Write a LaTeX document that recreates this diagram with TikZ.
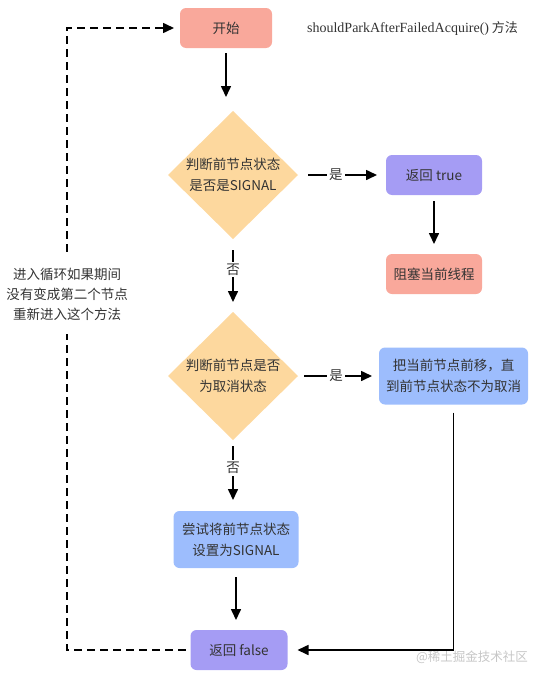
\documentclass[tikz,border=0pt]{standalone}
\usepackage{fontspec}
\setmainfont{Noto Sans CJK SC}
\newfontfamily\titlefont{Liberation Serif}
\usetikzlibrary{
  shapes.geometric, % Shape "diamond"
  arrows.meta,
  positioning,      % Function "of" (e.g. [below=of x])
}
\definecolor{startred}{HTML}{F9A89B}
\definecolor{decide}{HTML}{FDD89E}
\definecolor{retpurple}{HTML}{A59CF4}
\definecolor{stepblue}{HTML}{9DBDFD}
\definecolor{ink}{HTML}{333333}
\def\myboxw{96pt}
\def\myboxh{40pt}
\tikzset{
  font=\fontsize{13.5}{21}\selectfont,
  >={Triangle[length=11pt,width=10pt]},
  my box/.style={
    rectangle,
    rounded corners=6pt,
    minimum width=\myboxw,
    minimum height=\myboxh,
    inner sep=2pt,
    outer sep=0pt,
    align=center,
    text=ink
  },
  red box/.style={my box,fill=startred},
  ret box/.style={my box,fill=retpurple},
  blue box/.style={my box,fill=stepblue,minimum height=57pt},
  decision/.style={
    diamond,
    fill=decide,
    minimum width=130pt,
    minimum height=128pt,
    inner sep=0pt,
    outer sep=0pt,
    align=center,
    text=ink
  },
  flow/.style={->,shorten <=6pt,shorten >=10pt},
  answer/.style={fill=white,inner sep=2pt,text=ink},
  back/.style={dash pattern=on 8pt off 5pt}
}

\begin{document}
\begin{tikzpicture}[x=1pt,y=-1pt,line width=1.6pt]
\useasboundingbox (0,0) rectangle (542,680);
\node[red box,minimum width=92pt] (start) at (226,28)                      {开始};
\node[text=ink,anchor=west,font=\fontsize{13}{14}\selectfont]
                                  (title) [right=31pt of start]             {{\titlefont\fontsize{14}{14}\selectfont shouldParkAfterFailedAcquire()} 方法};
\node[decision]                   (d1)    [below=63pt of start,xshift=7pt]  {判断前节点状态\\是否是SIGNAL};
\node[ret box]                    (yes1)  [right=88pt of d1]                {返回 true};
\node[red box]                    (block) [below=59pt of yes1]              {阻塞当前线程};
\node[decision]                   (d2)    [below=73pt of d1]                {判断前节点是否\\为取消状态};
\node[blue box,minimum width=149pt] (move) [right=81pt of d2]               {把当前节点前移，直\\到前节点状态不为取消};
\node[blue box,minimum width=125pt] (try)  [below=71pt of d2,xshift=3pt]    {尝试将前节点状态\\设置为SIGNAL};
\node[ret box,minimum width=97pt] (false) [below=62pt of try,xshift=3pt]    {返回 false};
\node[text=ink,align=center,font=\fontsize{13.5}{20}\selectfont]
                                  (note)  at (67,294)                       {进入循环如果期间\\没有变成第二个节点\\重新进入这个方法};
\node[text=gray!45,font=\fontsize{12.5}{14}\selectfont]
                                  (mark)  at (472,657)                      {@稀土掘金技术社区};

\draw[flow,shorten <=5pt,shorten >=14pt] (start) -- (start |- d1.north);
\draw[flow,shorten <=10pt,shorten >=9pt] (d1)    -- node[answer,pos=0.43]{是} (yes1);
\draw[flow]                              (yes1)  -- (block);
\draw[flow,shorten <=11pt]               (d1)    -- node[answer,pos=0.42]{否} (d2);
\draw[flow,shorten >=7pt]                (d2)    -- node[answer,pos=0.47]{是} (move);
\draw[flow,shorten >=11pt]               (d2)    -- node[answer,pos=0.39]{否} (d2 |- try.north);
\draw[flow,shorten <=9pt]                (try)   -- (try |- false.north);
\draw[flow,shorten <=8pt]                (move)  |- (false);
\draw[back,shorten <=5pt,shorten >=10pt] (false) -| (note);
\draw[back,->,shorten <=12pt,shorten >=6pt] (note) |- (start);
\end{tikzpicture}
\end{document}
